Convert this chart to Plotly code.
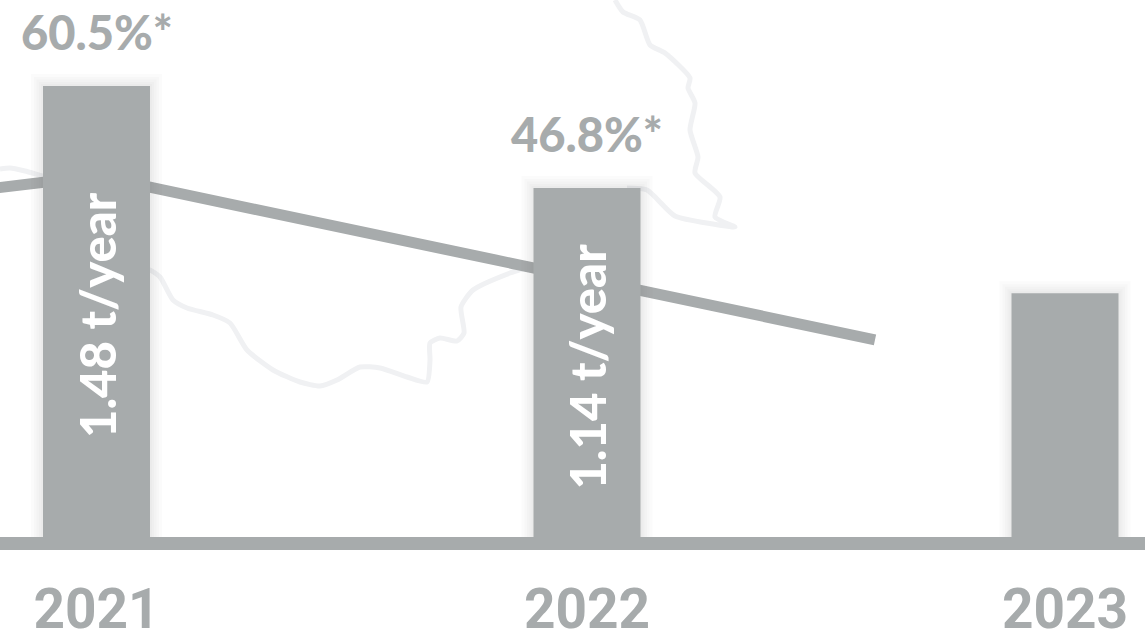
import plotly.graph_objects as go

# Chart data
years = ["2021", "2022", "2023"]
bar_pos = [96.5, 587, 1065]
bar_values = [1.48, 1.145, 0.80]
bar_labels = ["1.48 t/year", "1.14 t/year"]
pct_labels = ["60.5%*", "46.8%*"]
trend_x = [-5, 96.5, 875]
trend_y = [1.145, 1.185, 0.647]

# Faint background map outline
map_a_x = [0, 10, 25, 43, 60]
map_a_y = [169, 168, 171, 176, 180]
map_b_x = [140, 150, 160, 173, 187, 213, 230, 247, 273, 300, 320, 337, 360, 380, 407, 427, 430, 430, 440, 457, 464, 461, 473, 510, 545]
map_b_y = [268, 270, 277, 300, 308, 315, 323, 350, 370, 382, 386, 380, 367, 368, 377, 382, 360, 343, 338, 341, 333, 307, 290, 273, 262]
map_c_x = [615, 623, 640, 650, 665, 690, 688, 695, 690, 698, 695, 720, 715, 735, 713, 675, 647, 627]
map_c_y = [0, 12, 20, 45, 53, 78, 88, 103, 130, 157, 173, 197, 217, 227, 224, 216, 190, 188]

GREY = "#a7abac"
MAP = "#f0f1f3"
PX_PER_UNIT = 304.7
HEIGHT = 641
BASE_PX = 537
BOTTOM_PX = 550
VALUE_RANGE = [(BASE_PX - BOTTOM_PX) / PX_PER_UNIT, BASE_PX / PX_PER_UNIT]

fig = go.Figure()

for mx, my in [(map_a_x, map_a_y), (map_b_x, map_b_y), (map_c_x, map_c_y)]:
    fig.add_trace(go.Scatter(x=mx, y=my, yaxis="y", mode="lines",
                             line=dict(color=MAP, width=5, shape="spline", smoothing=0.6),
                             hoverinfo="skip", showlegend=False))

# the trend line sits on its own overlay so the bars paint over it
fig.add_trace(go.Scatter(x=trend_x, y=trend_y, yaxis="y2", mode="lines",
                         line=dict(color=GREY, width=11), showlegend=False))

# soft glow around bars
for w in [24, 18, 13, 8, 4]:
    fig.add_trace(go.Bar(x=bar_pos, y=bar_values, yaxis="y3", width=107,
                         marker=dict(color="rgba(0,0,0,0)",
                                     line=dict(color="rgba(70,70,70,0.022)", width=w)),
                         hoverinfo="skip", showlegend=False))

fig.add_trace(go.Bar(x=bar_pos, y=bar_values, yaxis="y3", width=107,
                     marker=dict(color=GREY, line=dict(width=0)),
                     showlegend=False))

for xp, val, label in zip(bar_pos, bar_values, pct_labels):
    fig.add_annotation(x=xp, y=val, yref="y3", text=label, showarrow=False,
                       yanchor="bottom", yshift=24,
                       font=dict(family="Lato", size=47, color=GREY, weight=900))

for xp, val, label in zip(bar_pos, bar_values, bar_labels):
    fig.add_annotation(x=xp, y=val / 2, yref="y3", text=label, showarrow=False,
                       textangle=-90, yshift=-4,
                       font=dict(family="Lato", size=49, color="white", weight=900))

fig.add_shape(type="line", xref="paper", x0=0, x1=1,
              yref="y3", y0=(BASE_PX - (BOTTOM_PX + BASE_PX) / 2) / PX_PER_UNIT,
              y1=(BASE_PX - (BOTTOM_PX + BASE_PX) / 2) / PX_PER_UNIT,
              line=dict(color=GREY, width=13), layer="above")

fig.update_layout(
    width=1145, height=HEIGHT,
    margin=dict(l=0, r=0, t=0, b=HEIGHT - BOTTOM_PX, pad=0),
    paper_bgcolor="white", plot_bgcolor="white",
    barmode="overlay", showlegend=False,
    xaxis=dict(range=[0, 1145], tickmode="array", tickvals=bar_pos, ticktext=years,
               showgrid=False, zeroline=False, showline=False, automargin=False,
               ticks="", tickfont=dict(family="Roboto", size=55, color=GREY, weight=700),
               ticklabelstandoff=22),
    yaxis=dict(range=[BOTTOM_PX, 0], visible=False, fixedrange=True, automargin=False),
    yaxis2=dict(overlaying="y", range=VALUE_RANGE, visible=False, fixedrange=True, automargin=False),
    yaxis3=dict(overlaying="y", range=VALUE_RANGE, visible=False, fixedrange=True, automargin=False),
)

fig.write_html("out.html", config={"displayModeBar": False},
               post_script="document.body.style.margin='0';document.body.style.overflow='hidden';")
